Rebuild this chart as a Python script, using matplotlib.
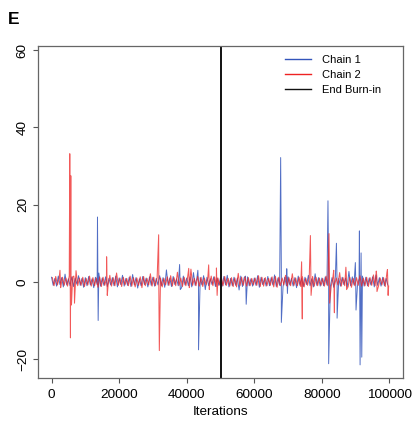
import numpy as np
import matplotlib
matplotlib.use("Agg")
import matplotlib.pyplot as plt

plt.rcParams["font.family"] = ["Liberation Sans", "DejaVu Sans"]

# baseline samples: a high and a low value for each block of 1000 iterations
blocks = np.arange(0, 100000, 1000)

chain1_hi = [
    1.2, 0.9, 1.5, 1.1, 2.0, 0.8, 1.3, 1.0, 1.6, 0.9,
    1.1, 1.4, 0.8, 1.2, 2.3, 1.0, 1.3, 0.9, 1.1, 1.5,
    1.0, 1.7, 0.9, 1.2, 1.9, 1.1, 0.8, 1.4, 1.0, 1.3,
    1.2, 0.9, 1.6, 1.1, 3.1, 1.0, 1.4, 0.8, 1.2, 1.5,
    1.0, 1.3, 2.4, 0.9, 1.1, 1.6, 1.2, 0.8, 1.3, 1.0,
    1.1, 1.4, 1.7, 0.9, 1.2, 1.0, 1.5, 1.1, 1.3, 0.8,
    1.0, 1.6, 1.2, 0.9, 1.4, 1.1, 1.8, 1.0, 2.6, 1.2,
    1.3, 0.9, 1.1, 1.5, 1.0, 1.2, 1.7, 0.8, 2.1, 1.1,
    1.0, 1.3, 1.9, 1.1, 1.4, 0.9, 1.2, 1.0, 2.7, 1.3,
    1.1, 0.9, 1.5, 1.2, 1.0, 1.3, 1.8, 1.1, 1.2, 0.9,
]
chain1_lo = [
    -0.9, -1.1, -0.7, -1.3, -0.8, -1.0, -1.2, -0.6, -0.9, -1.4,
    -1.0, -0.8, -1.5, -0.7, -1.1, -0.9, -1.2, -0.8, -1.0, -1.3,
    -0.7, -1.1, -0.9, -1.2, -0.8, -1.6, -1.0, -0.7, -1.3, -0.9,
    -1.1, -0.8, -1.0, -1.4, -0.9, -1.2, -0.7, -1.0, -1.5, -0.8,
    -1.0, -1.3, -0.9, -1.1, -0.8, -2.0, -1.0, -0.7, -1.2, -0.9,
    -1.1, -0.8, -1.3, -1.0, -0.9, -2.1, -1.2, -0.8, -1.0, -1.1,
    -0.9, -1.4, -0.7, -1.1, -1.0, -0.8, -1.2, -0.9, -1.3, -1.0,
    -0.8, -1.1, -1.5, -0.9, -1.2, -0.7, -1.0, -1.3, -0.9, -1.1,
    -1.0, -0.8, -1.2, -1.4, -0.9, -1.1, -0.7, -1.3, -1.0, -0.8,
    -1.2, -0.9, -1.1, -1.0, -0.8, -1.3, -0.9, -1.1, -1.0, -0.8,
]
chain2_hi = [
    1.1, 1.4, 0.9, 1.2, 1.0, 1.6, 1.3, 2.9, 1.0, 1.2,
    0.9, 1.5, 1.1, 1.0, 1.3, 1.2, 0.8, 1.7, 1.1, 2.3,
    1.0, 1.2, 0.9, 1.5, 1.1, 1.0, 1.3, 1.4, 0.9, 2.1,
    1.2, 1.1, 1.0, 0.9, 1.3, 1.6, 1.1, 2.5, 1.0, 1.2,
    1.1, 3.3, 0.9, 1.4, 1.2, 1.0, 1.1, 1.5, 1.3, 1.0,
    1.2, 1.4, 0.9, 1.1, 1.0, 2.2, 1.2, 1.3, 1.1, 0.9,
    1.0, 1.6, 1.2, 1.1, 0.9, 1.3, 1.4, 1.2, 1.0, 1.7,
    1.1, 2.1, 1.0, 1.2, 1.3, 0.9, 1.1, 1.4, 1.2, 1.0,
    0.9, 1.5, 1.2, 1.1, 1.0, 2.4, 1.1, 1.3, 1.2, 0.9,
    1.1, 1.6, 1.0, 1.2, 1.1, 1.8, 1.3, 1.0, 1.1, 2.5,
]
chain2_lo = [
    -1.0, -0.8, -1.2, -0.9, -1.1, -0.7, -1.3, -1.0, -0.9, -1.2,
    -0.8, -1.1, -1.0, -1.4, -1.2, -0.9, -0.8, -1.1, -1.0, -0.9,
    -1.2, -0.8, -1.0, -1.1, -1.3, -0.9, -1.5, -1.0, -0.8, -1.1,
    -1.0, -1.2, -1.3, -0.8, -0.9, -1.1, -1.0, -0.9, -1.2, -1.0,
    -1.4, -0.9, -1.0, -1.1, -1.2, -0.8, -0.9, -1.0, -1.1, -0.8,
    -1.0, -0.9, -1.1, -1.2, -1.3, -1.0, -0.9, -1.1, -1.0, -0.8,
    -0.9, -1.2, -1.1, -1.0, -0.9, -1.3, -1.4, -1.0, -0.8, -1.1,
    -1.0, -0.9, -1.0, -1.2, -1.3, -0.9, -0.8, -1.1, -1.0, -0.9,
    -1.1, -1.0, -1.2, -0.9, -0.8, -1.1, -1.0, -1.3, -1.4, -1.0,
    -0.9, -1.1, -1.0, -1.2, -0.9, -1.0, -1.1, -0.8, -1.2, -1.1,
]

# large excursions: iteration, peak, trough
chain1_spike_x = [13500, 37800, 43200, 57300, 67700, 69500, 81700, 84200, 89800, 91000, 91500]
chain1_spike_up = [16.8, 4.5, 3.0, 1.5, 32.2, 3.4, 21.0, 10.0, 5.0, 13.2, 7.5]
chain1_spike_dn = [-10.0, -2.0, -17.6, -5.8, -10.5, -3.0, -21.2, -9.4, -7.3, -21.5, -19.5]

chain2_spike_x = [2400, 5300, 5600, 6500, 16200, 31600, 40500, 46400, 48700,
                  73900, 76500, 82000, 83400, 87000, 96000, 99300]
chain2_spike_up = [3.0, 33.2, 27.5, 1.5, 6.5, 12.2, 3.5, 4.4, 3.6,
                   5.2, 12.0, 12.5, 3.0, 3.8, 2.8, 3.2]
chain2_spike_dn = [-1.5, -14.5, -6.0, -5.5, -3.5, -17.8, -1.5, -2.0, -3.5,
                   -9.6, -3.5, -5.5, -8.0, -2.0, -2.5, -3.5]

burn_in = 50000


def build(hi, lo, sx, up, dn, shift):
    xs = list(blocks + shift) + list(blocks + shift + 500)
    ys = list(hi) + list(lo)
    for x, u, d in zip(sx, up, dn):
        xs += [x + 100, x + 300]
        ys += [u, d]
    order = np.argsort(xs, kind="stable")
    return np.array(xs)[order], np.array(ys)[order]


x1, y1 = build(chain1_hi, chain1_lo, chain1_spike_x, chain1_spike_up, chain1_spike_dn, 0)
x2, y2 = build(chain2_hi, chain2_lo, chain2_spike_x, chain2_spike_up, chain2_spike_dn, 250)

fig = plt.figure(figsize=(4.15, 4.24), dpi=100)
ax = fig.add_axes([38 / 415, 46 / 424, 365 / 415, 332 / 424])

ax.plot(x1, y1, color="#3355BB", lw=0.7, alpha=0.85, label="Chain 1")
ax.plot(x2, y2, color="#EE2222", lw=0.75, alpha=0.75, label="Chain 2")
ax.axvline(burn_in, color="#111111", lw=1.4, label="End Burn-in")

ax.set_xlim(-4000, 104000)
ax.set_ylim(-24.9, 61.1)
ax.set_xticks([0, 20000, 40000, 60000, 80000, 100000])
ax.set_yticks([-20, 0, 20, 40, 60])
ax.tick_params(axis="both", length=3.6, color="#555555", labelsize=9.7, width=0.8)
ax.tick_params(axis="x", pad=4)
ax.tick_params(axis="y", pad=3, labelrotation=90)
for lab in ax.get_yticklabels():
    lab.set_va("center")
for sp in ax.spines.values():
    sp.set_color("#666666")
    sp.set_linewidth(0.9)

fig.text(220.5 / 415, 1 - 412 / 424, "Iterations", ha="center", va="center", fontsize=9.7)
fig.text(8 / 415, 1 - 24 / 424, "E", ha="left", va="baseline", fontsize=12.5, fontweight="bold")

leg = ax.legend(loc="upper left", bbox_to_anchor=(285 / 415, 1 - 55 / 424),
                bbox_transform=fig.transFigure, frameon=False, fontsize=8,
                handlelength=2.3, handletextpad=1.0, labelspacing=0.45,
                borderpad=0, borderaxespad=0)
for line in leg.get_lines():
    line.set_linewidth(1.0)
    line.set_alpha(1.0)

fig.savefig("out.png", dpi=100)
